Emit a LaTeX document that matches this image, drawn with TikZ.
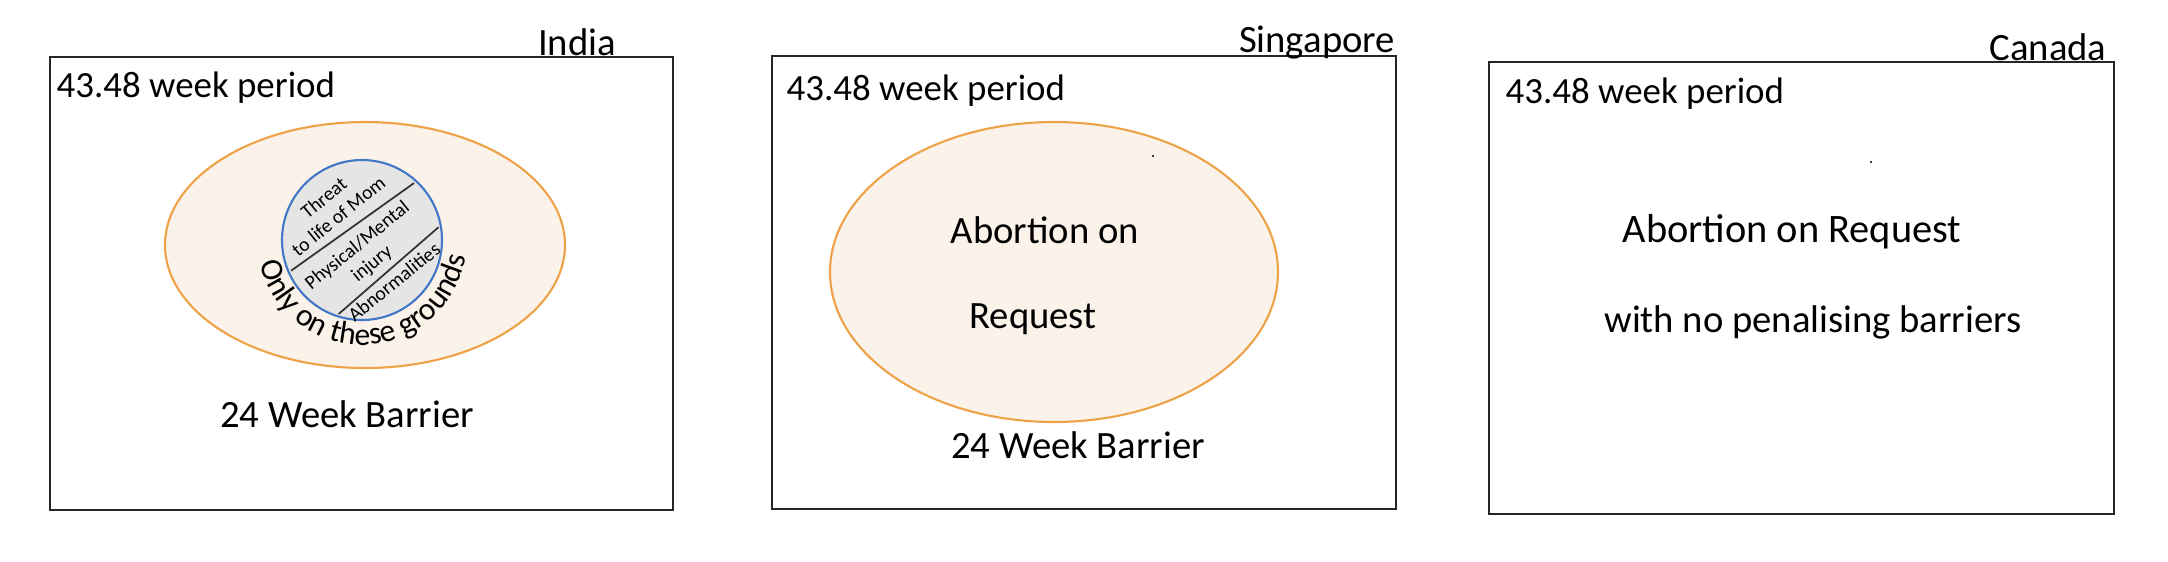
\documentclass[tikz,border=0pt]{standalone}
\usepackage{fontspec}
\setmainfont{Carlito}
\usetikzlibrary{shapes.geometric, decorations.text}

\definecolor{rangeline}{RGB}{238,162,72}
\definecolor{rangefill}{RGB}{251,242,233}
\definecolor{groundline}{RGB}{66,118,198}
\definecolor{groundfill}{RGB}{229,229,229}

\begin{document}
\begin{tikzpicture}[x=0.1mm, y=-0.1mm,
    % Define the styles for the panels and the writing
    panel/.style={draw=black!85, line width=0.5pt},
    country/.style={font=\fontsize{11}{13}\selectfont, inner sep=0pt, anchor=base},
    period/.style={font=\fontsize{10.5}{12}\selectfont, inner sep=0pt, anchor=base west},
    note/.style={font=\fontsize{11}{13}\selectfont, inner sep=0pt, anchor=base},
    legalrange/.style={ellipse, draw=rangeline, fill=rangefill, line width=0.6pt, inner sep=0pt},
    tiny/.style={font=\fontsize{5.6}{6.6}\selectfont, align=center, inner sep=0pt, rotate=39}
]

\useasboundingbox (0,0) rectangle (2168,561);

% Draw the three panels
\draw[panel] (50,57) rectangle (673,510);
\draw[panel] (772,56) rectangle (1396,509);
\draw[panel] (1489,62) rectangle (2114,514);

% Add the country labels
\node[country] (india) at (577,55) {India};
\node[country] (singapore) at (1317,52) {Singapore};
\node[country] (canada) at (2048,60) {Canada};

% Add the period labels
\node[period] (indiaPeriod) at (56,97) {43.48 week period};
\node[period] (sgPeriod) at (786,100) {43.48 week period};
\node[period] (caPeriod) at (1505,103) {43.48 week period};

% India: range with the grounds inside
\node[legalrange, minimum width=40mm, minimum height=24.6mm] (indiaRange) at (365,245) {};
\node[circle, draw=groundline, fill=groundfill, line width=0.6pt,
      minimum size=16mm, inner sep=0pt] (grounds) at (362,240) {};
\draw[black!80, line width=0.5pt, shorten <=0.4mm, shorten >=0.4mm] (grounds.204) -- (grounds.47);
\draw[black!80, line width=0.5pt, shorten <=0.4mm, shorten >=0.4mm] (grounds.251) -- (grounds.11);
\node[tiny] (threat) at (331,207) {Threat\\to life of Mom};
\node[tiny] (injury) at (365,255) {Physical/Mental\\injury};
\node[tiny] (abnormal) at (394,282) {Abnormalities};
\path[decorate, decoration={text along path, text align=center,
      text={|\fontsize{9}{10}\selectfont|Only on these grounds}}]
  (grounds.center) ++(168:105) arc (168:8:105);
\node[note] (indiaBarrier) at (347,427) {24 Week Barrier};

% Singapore: range on request
\node[legalrange, minimum width=44.8mm, minimum height=30mm] (sgRange) at (1054,272) {};
\node[note] (sgAbortion) at (1045,243) {Abortion on};
\node[note] (sgRequest) at (1033,328) {Request};
\node[note] (sgBarrier) at (1078,458) {24 Week Barrier};
\fill (1153,156) circle (1.2);

% Canada: no barrier at all
\node[note, font=\fontsize{11.5}{13}\selectfont] (caAbortion) at (1792,242) {Abortion on Request};
\node[note] (caBarrier) at (1813,332) {with no penalising barriers};
\fill (1871,162) circle (1.2);

\end{tikzpicture}
\end{document}
